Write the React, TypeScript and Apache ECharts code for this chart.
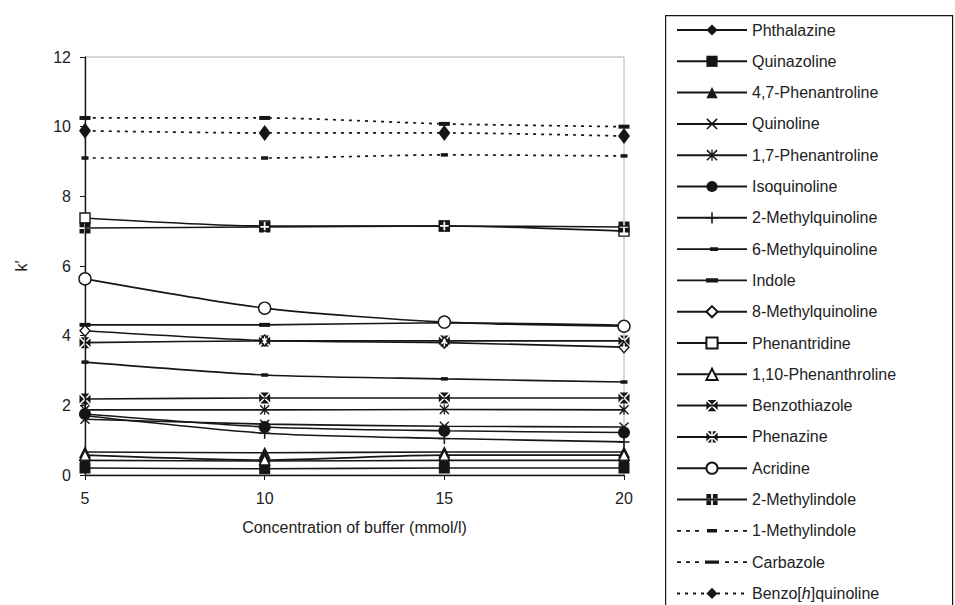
import React, { useEffect, useRef } from "react";
import * as echarts from "echarts";

const concentrations = [5, 10, 15, 20];
const xTicks = [5, 10, 15, 20];
const yTicks = [0, 2, 4, 6, 8, 10, 12];

const seriesNames = [
  "Phthalazine",
  "Quinazoline",
  "4,7-Phenantroline",
  "Quinoline",
  "1,7-Phenantroline",
  "Isoquinoline",
  "2-Methylquinoline",
  "6-Methylquinoline",
  "Indole",
  "8-Methylquinoline",
  "Phenantridine",
  "1,10-Phenanthroline",
  "Benzothiazole",
  "Phenazine",
  "Acridine",
  "2-Methylindole",
  "1-Methylindole",
  "Carbazole",
  "Benzo[h]quinoline",
];

const phthalazine = [0.42, 0.4, 0.42, 0.42];
const quinazoline = [0.2, 0.18, 0.2, 0.2];
const phen47 = [0.66, 0.64, 0.66, 0.66];
const quinoline = [1.6, 1.46, 1.4, 1.38];
const phen17 = [1.87, 1.87, 1.88, 1.87];
const isoquinoline = [1.75, 1.38, 1.27, 1.22];
const methylquinoline2 = [1.7, 1.2, 1.05, 0.95];
const methylquinoline6 = [3.24, 2.87, 2.76, 2.67];
const indole = [4.31, 4.31, 4.37, 4.3];
const methylquinoline8 = [4.14, 3.86, 3.8, 3.67];
const phenantridine = [7.38, 7.15, 7.15, 7.0];
const phen110 = [0.57, 0.43, 0.57, 0.57];
const benzothiazole = [2.18, 2.21, 2.21, 2.21];
const phenazine = [3.8, 3.85, 3.85, 3.85];
const acridine = [5.63, 4.79, 4.39, 4.27];
const methylindole2 = [7.09, 7.12, 7.15, 7.12];
const methylindole1 = [9.1, 9.1, 9.19, 9.16];
const carbazole = [10.25, 10.25, 10.08, 10.0];
const benzoquinoline = [9.88, 9.82, 9.82, 9.73];

const seriesValues = [
  phthalazine,
  quinazoline,
  phen47,
  quinoline,
  phen17,
  isoquinoline,
  methylquinoline2,
  methylquinoline6,
  indole,
  methylquinoline8,
  phenantridine,
  phen110,
  benzothiazole,
  phenazine,
  acridine,
  methylindole2,
  methylindole1,
  carbazole,
  benzoquinoline,
];

const INK = "#161616";
const FONT = "'Liberation Sans', Arial, Helvetica, sans-serif";

const diamondPath = "path://M5,0 L10,7 L5,14 L0,7 Z";
const crossPath =
  "path://M0,1 L1,0 L5,4 L9,0 L10,1 L6,5 L10,9 L9,10 L5,6 L1,10 L0,9 L4,5 Z";
const asteriskPath =
  "path://M0,1 L1,0 L5,4 L9,0 L10,1 L6,5 L10,9 L9,10 L5,6 L1,10 L0,9 L4,5 Z M4.4,0 L5.6,0 L5.6,10 L4.4,10 Z";
const plusPath =
  "path://M4.3,0 L5.7,0 L5.7,4.3 L10,4.3 L10,5.7 L5.7,5.7 L5.7,10 L4.3,10 L4.3,5.7 L0,5.7 L0,4.3 L4.3,4.3 Z";
const boxXPath =
  "path://M1,0 L9,0 L5,4 Z M10,1 L10,9 L6,5 Z M1,10 L9,10 L5,6 Z M0,1 L0,9 L4,5 Z";
const boxStarPath =
  "path://M0,1 L0,9 L4,5 Z M10,1 L10,9 L6,5 Z M1,0 L4.3,0 L4.3,3.3 Z M5.7,0 L9,0 L5.7,3.3 Z M1,10 L4.3,10 L4.3,6.7 Z M5.7,10 L9,10 L5.7,6.7 Z";
const boxPlusPath =
  "path://M0,0 L4.2,0 L4.2,4.2 L0,4.2 Z M5.8,0 L10,0 L10,4.2 L5.8,4.2 Z M0,5.8 L4.2,5.8 L4.2,10 L0,10 Z M5.8,5.8 L10,5.8 L10,10 L5.8,10 Z";

// legend icons (line + marker) for the dash-marked series
const legendThinSolid = "path://M0,1 L70,1 L70,2.6 L0,2.6 Z M33,0 L41,0 L41,3.6 L33,3.6 Z";
const legendThickSolid = "path://M0,1.4 L70,1.4 L70,3 L0,3 Z M29,0 L41,0 L41,4.4 L29,4.4 Z";
const legendThinDashed =
  "path://M0,0.8 L4,0.8 L4,2.6 L0,2.6 Z M9,0.8 L13,0.8 L13,2.6 L9,2.6 Z M18,0.8 L22,0.8 L22,2.6 L18,2.6 Z M30,0 L40,0 L40,3.4 L30,3.4 Z M48,0.8 L52,0.8 L52,2.6 L48,2.6 Z M57,0.8 L61,0.8 L61,2.6 L57,2.6 Z M66,0.8 L70,0.8 L70,2.6 L66,2.6 Z";
const legendThickDashed =
  "path://M0,0.8 L4,0.8 L4,2.6 L0,2.6 Z M9,0.8 L13,0.8 L13,2.6 L9,2.6 Z M18,0.8 L22,0.8 L22,2.6 L18,2.6 Z M28,0 L42,0 L42,3.4 L28,3.4 Z M48,0.8 L52,0.8 L52,2.6 L48,2.6 Z M57,0.8 L61,0.8 L61,2.6 L57,2.6 Z M66,0.8 L70,0.8 L70,2.6 L66,2.6 Z";

type Sym = {
  symbol: string;
  size: number | number[];
  open?: boolean;
  dashed?: boolean;
  legendIcon?: string;
};

const symbols: Sym[] = [
  { symbol: diamondPath, size: [12, 24] },
  { symbol: "rect", size: 11 },
  { symbol: "triangle", size: 12 },
  { symbol: crossPath, size: 10 },
  { symbol: asteriskPath, size: 10 },
  { symbol: "circle", size: 12 },
  { symbol: plusPath, size: 11 },
  { symbol: "rect", size: [7, 3.5], legendIcon: legendThinSolid },
  { symbol: "rect", size: [11, 4], legendIcon: legendThickSolid },
  { symbol: "diamond", size: [10, 11], open: true },
  { symbol: "rect", size: 10, open: true },
  { symbol: "triangle", size: 10, open: true },
  { symbol: boxXPath, size: 11 },
  { symbol: boxStarPath, size: 11 },
  { symbol: "circle", size: 12, open: true },
  { symbol: boxPlusPath, size: 11 },
  { symbol: "rect", size: [7, 3.5], dashed: true, legendIcon: legendThinDashed },
  { symbol: "rect", size: [11, 4], dashed: true, legendIcon: legendThickDashed },
  { symbol: diamondPath, size: [12, 16], dashed: true },
];

export default function App() {
  const ref = useRef<HTMLDivElement>(null);

  useEffect(() => {
    document.body.style.margin = "0";
    if (!ref.current) return;
    const chart = echarts.init(ref.current, undefined, { renderer: "svg" });

    const series = seriesNames.map((name, i) => {
      const s = symbols[i];
      return {
        name,
        type: "line",
        data: concentrations.map((c, j) => [c, seriesValues[i][j]]),
        symbol: s.symbol,
        symbolSize: s.size,
        smooth: 0.25,
        z: 2,
        lineStyle: {
          color: INK,
          width: s.dashed ? 1.7 : 1.6,
          type: s.dashed ? [3, 5] : "solid",
        },
        itemStyle: s.open
          ? { color: "#ffffff", borderColor: INK, borderWidth: 1.4 }
          : { color: INK, borderWidth: 0 },
        emphasis: { disabled: true },
      };
    });

    const legendData = seriesNames.map((name, i) =>
      symbols[i].legendIcon ? { name, icon: symbols[i].legendIcon } : { name }
    );

    chart.setOption({
      animation: false,
      textStyle: { fontFamily: FONT },
      grid: {
        left: 85,
        right: 331,
        top: 57,
        bottom: 130,
        show: true,
        borderColor: "#b0b0b0",
        borderWidth: 1,
        backgroundColor: "transparent",
      },
      xAxis: {
        type: "value",
        min: xTicks[0],
        max: xTicks[xTicks.length - 1],
        interval: 5,
        name: "Concentration of buffer (mmol/l)",
        nameLocation: "middle",
        nameGap: 44,
        nameTextStyle: { fontSize: 16, color: "#222", fontFamily: FONT },
        axisLine: { lineStyle: { color: INK, width: 1.4 } },
        axisTick: { show: true, length: 5, lineStyle: { color: INK } },
        axisLabel: { fontSize: 16, color: "#222", margin: 15, fontFamily: FONT },
        splitLine: { show: false },
      },
      yAxis: {
        type: "value",
        min: yTicks[0],
        max: yTicks[yTicks.length - 1],
        interval: 2,
        name: "k\u2032",
        nameLocation: "middle",
        nameGap: 56,
        nameTextStyle: { fontSize: 16, color: "#222", fontFamily: FONT },
        axisLine: { show: true, lineStyle: { color: INK, width: 1.4 } },
        axisTick: { show: true, length: 5, lineStyle: { color: INK } },
        axisLabel: { fontSize: 16, color: "#222", margin: 14, fontFamily: FONT },
        splitLine: { show: false },
      },
      legend: {
        orient: "vertical",
        left: 671,
        top: 17,
        height: 640,
        itemWidth: 70,
        itemHeight: 14,
        itemGap: 15.3,
        selectedMode: false,
        data: legendData,
        textStyle: {
          fontSize: 16,
          color: "#222",
          lineHeight: 16,
          fontFamily: FONT,
          rich: {
            i: { fontStyle: "italic", fontSize: 16, color: "#222", fontFamily: FONT },
          },
        },
        formatter: (name: string) =>
          name === "Benzo[h]quinoline" ? "Benzo[{i|h}]quinoline" : name,
      },
      graphic: [
        {
          type: "rect",
          left: 665,
          top: 15,
          shape: { width: 287, height: 620 },
          style: { fill: "transparent", stroke: INK, lineWidth: 1.2 },
          silent: true,
        },
      ],
      series,
    });

    return () => chart.dispose();
  }, []);

  return <div ref={ref} style={{ width: 955, height: 605 }} />;
}
